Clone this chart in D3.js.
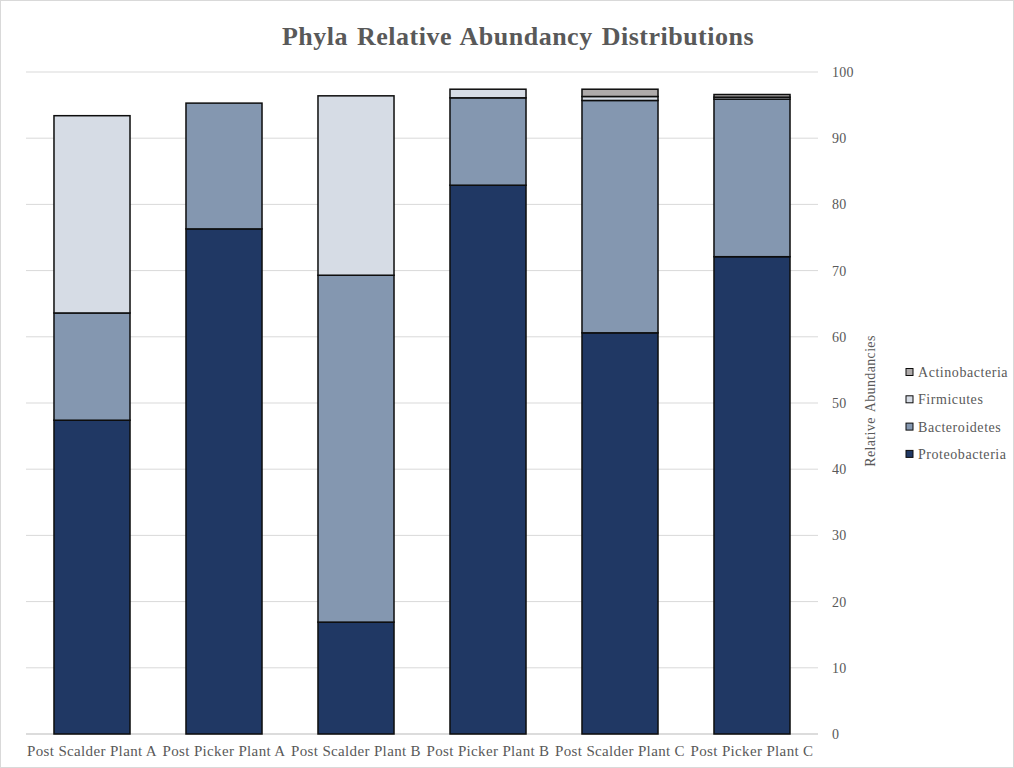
<!DOCTYPE html>
<html>
<head>
<meta charset="utf-8">
<script src="https://cdn.jsdelivr.net/npm/d3@7"></script>
<style>
  html, body { margin: 0; padding: 0; background: #fff; }
  svg { display: block; }
  text { font-family: "Liberation Serif", "Times New Roman", serif; }
</style>
</head>
<body>
<svg id="chart" width="1014" height="768"></svg>
<script>
// Sample groups along the x axis
const categories = [
  "Post Scalder Plant A", "Post Picker Plant A",
  "Post Scalder Plant B", "Post Picker Plant B",
  "Post Scalder Plant C", "Post Picker Plant C"
];

// Relative abundance (%) of each phylum per sample, stacked bottom to top
const proteobacteria = [47.4, 76.3, 16.9, 82.9, 60.6, 72.1];
const bacteroidetes  = [16.2, 19.0, 52.4, 13.2, 35.1, 23.8];
const firmicutes     = [29.8,  0.0, 27.1,  1.3,  0.6,  0.3];
const actinobacteria = [ 0.0,  0.0,  0.0,  0.0,  1.1,  0.4];

const seriesNames  = ["Proteobacteria", "Bacteroidetes", "Firmicutes", "Actinobacteria"];
const seriesColors = ["#203864", "#8497B0", "#D6DCE5", "#AEAAAA"];
const yTicks = [0, 10, 20, 30, 40, 50, 60, 70, 80, 90, 100];

const rows = categories.map((c, i) => ({
  category: c,
  Proteobacteria: proteobacteria[i],
  Bacteroidetes: bacteroidetes[i],
  Firmicutes: firmicutes[i],
  Actinobacteria: actinobacteria[i]
}));

const svg = d3.select("#chart");
const W = 1014, H = 768;
const plot = { left: 26, right: 818, top: 72, bottom: 734 };

// outer frame
svg.append("rect")
  .attr("x", 0.5).attr("y", 0.5)
  .attr("width", W - 1).attr("height", H - 1)
  .attr("fill", "#fff").attr("stroke", "#d9d9d9");

const x = d3.scaleBand()
  .domain(categories)
  .range([plot.left, plot.right])
  .paddingInner(0.424)
  .paddingOuter(0.212);

const y = d3.scaleLinear().domain([0, 100]).range([plot.bottom, plot.top]);

// horizontal gridlines
svg.append("g")
  .selectAll("line")
  .data(yTicks)
  .join("line")
  .attr("x1", plot.left).attr("x2", plot.right)
  .attr("y1", d => y(d)).attr("y2", d => y(d))
  .attr("stroke", d => d === 0 ? "#d0d0d0" : "#d9d9d9")
  .attr("stroke-width", d => d === 0 ? 1.5 : 1);

// right-hand value axis
const yAxis = svg.append("g")
  .attr("transform", `translate(${plot.right}, 0)`)
  .call(d3.axisRight(y).tickValues(yTicks).tickSize(0).tickPadding(14));
yAxis.select(".domain").remove();
yAxis.selectAll("text")
  .attr("fill", "#595959")
  .style("font-size", "14px")
  .style("letter-spacing", "0.3px")
  .style("font-family", "'Liberation Serif', serif");

// category axis
const xAxis = svg.append("g")
  .attr("transform", `translate(0, ${plot.bottom})`)
  .call(d3.axisBottom(x).tickSize(0).tickPadding(11));
xAxis.select(".domain").remove();
xAxis.selectAll("text")
  .attr("fill", "#595959")
  .style("font-size", "15px")
  .style("letter-spacing", "0.35px")
  .style("font-family", "'Liberation Serif', serif");

// stacked bars
const stack = d3.stack().keys(seriesNames);
const layers = stack(rows);
const color = d3.scaleOrdinal().domain(seriesNames).range(seriesColors);

svg.append("g")
  .selectAll("g")
  .data(layers)
  .join("g")
  .attr("fill", d => color(d.key))
  .selectAll("rect")
  .data(d => d.filter(s => s[1] - s[0] > 0))
  .join("rect")
  .attr("x", d => x(d.data.category))
  .attr("width", x.bandwidth())
  .attr("y", d => y(d[1]))
  .attr("height", d => y(d[0]) - y(d[1]))
  .attr("stroke", "#0d0d0d")
  .attr("stroke-width", 1.5);

// title
svg.append("text")
  .attr("x", 518).attr("y", 45)
  .attr("text-anchor", "middle")
  .attr("fill", "#595959")
  .style("font-size", "26px")
  .style("font-weight", "bold")
  .style("letter-spacing", "0.5px")
  .style("word-spacing", "2px")
  .text("Phyla Relative Abundancy Distributions");

// axis title
svg.append("text")
  .attr("transform", "translate(875, 401) rotate(-90)")
  .attr("text-anchor", "middle")
  .attr("fill", "#595959")
  .style("font-size", "14px")
  .style("letter-spacing", "0.35px")
  .style("word-spacing", "2px")
  .text("Relative Abundancies");

// legend, top entry is the last stacked series
const legend = svg.append("g")
  .selectAll("g")
  .data(seriesNames.slice().reverse())
  .join("g")
  .attr("transform", (d, i) => `translate(906, ${372 + i * 27.3})`);
legend.append("rect")
  .attr("x", 0).attr("y", -3.5)
  .attr("width", 7).attr("height", 7)
  .attr("fill", d => color(d))
  .attr("stroke", "#0d0d0d")
  .attr("stroke-width", 1);
legend.append("text")
  .attr("x", 12).attr("y", 0)
  .attr("dy", "0.35em")
  .attr("fill", "#595959")
  .style("font-size", "14px")
  .style("letter-spacing", "0.55px")
  .text(d => d);
</script>
</body>
</html>
